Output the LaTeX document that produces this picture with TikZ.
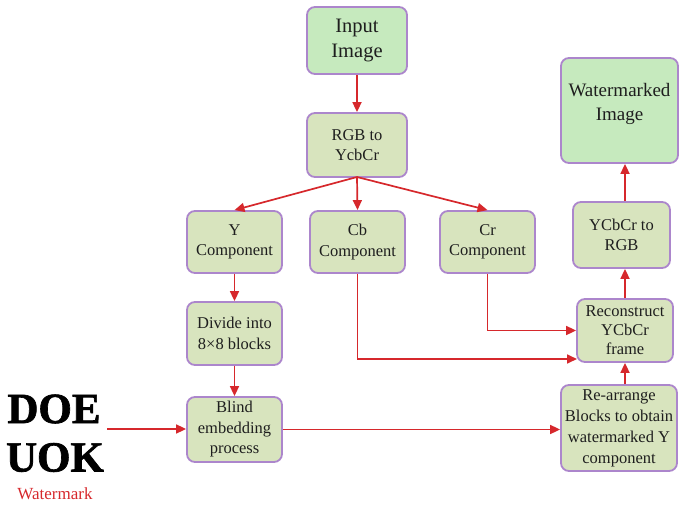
\documentclass[tikz,border=0pt]{standalone}
\usepackage{fontspec}
\setmainfont{Liberation Serif}
\newfontfamily\heavyfont[FakeBold=1.6]{Liberation Serif Bold}
\usetikzlibrary{arrows.meta,positioning}
\definecolor{boxfill}{RGB}{216,228,190}
\definecolor{imgfill}{RGB}{198,234,190}
\definecolor{boxline}{RGB}{172,134,204}
\definecolor{flow}{RGB}{214,40,44}
\definecolor{ink}{RGB}{30,30,30}
\tikzset{
  x=1pt, y=-1pt,
  procbox/.style={draw=boxline, line width=1.8pt, fill=boxfill, rounded corners=8pt,
    align=center, text=ink, inner sep=1pt,
    font=\fontsize{16.5}{20.5}\selectfont},
  imgbox/.style={procbox, fill=imgfill, font=\fontsize{19}{24}\selectfont},
  flowline/.style={draw=flow, line width=1.7pt, -{Triangle[length=10pt,width=9pt]}},
}
\begin{document}
\begin{tikzpicture}
\useasboundingbox (0,0) rectangle (680,508);
% left column and top of the pipeline
\node[imgbox, minimum width=100pt, minimum height=67pt, font=\fontsize{20.5}{25}\selectfont] (input) at (357,40.5) {Input\\Image};
\node[procbox, minimum width=100pt, minimum height=64pt] (rgb) at (357,145) {RGB to\\YcbCr};
\node[procbox, minimum width=95pt, minimum height=62pt] (ycomp) at (234.5,242) {Y\\Component};
\node[procbox, minimum width=95pt, minimum height=62pt] (cbcomp) at (357.5,242) {Cb\\Component};
\node[procbox, minimum width=95pt, minimum height=62pt] (crcomp) at (487.5,242) {Cr\\Component};
\node[procbox, minimum width=95pt, minimum height=63pt] (divide) at (234.5,333.5) {Divide into\\8×8 blocks};
\node[procbox, minimum width=95pt, minimum height=65pt] (blind) at (234.5,429.5) {Blind\\embedding\\process};
% right column
\node[procbox, minimum width=116pt, minimum height=86pt, font=\fontsize{16.5}{21}\selectfont] (rearr) at (619,428)
  {Re-arrange\\Blocks to obtain\\watermarked Y\\component};
\node[procbox, minimum width=96pt, minimum height=63pt, font=\fontsize{16.5}{19}\selectfont] (recon) at (625,330.5)
  {Reconstruct\\YCbCr\\frame};
\node[procbox, minimum width=97pt, minimum height=66pt] (torgb) at (621.5,235) {YCbCr to\\RGB};
\node[imgbox, minimum width=117pt, minimum height=105pt] (wmimg) at (619.5,110.5) {};
\node[align=center, text=ink, font=\fontsize{19}{24}\selectfont] (wmtext) at (619.5,104) {Watermarked\\Image};
% watermark logo
\node[text=black, font=\heavyfont\fontsize{43}{43}\selectfont, inner sep=0pt] (doe) at (54,409) {DOE};
\node[text=black, font=\heavyfont\fontsize{43}{43}\selectfont, inner sep=0pt] (uok) at (55,457.5) {UOK};
\node[text=flow, font=\fontsize{17}{18}\selectfont, inner sep=0pt] (wmlabel) at (55,494) {Watermark};
\coordinate (wmout) at (107,429);
\coordinate (split) at (357,177);
\coordinate (cbin) at (577,359);
% connectors
\draw[flowline] (input) -- (rgb);
\draw[flowline] (split) -- (ycomp.north);
\draw[flowline] (split) -- (cbcomp.north);
\draw[flowline] (split) -- (crcomp.north);
\draw[flowline] (ycomp) -- (divide);
\draw[flowline] (divide) -- (blind);
\draw[flowline] (wmout) -- (wmout -| blind.west);
\draw[flowline] (blind.east) -- (blind.east -| rearr.west);
\draw[flowline] (cbcomp.south) |- (cbin);
\draw[flowline] (crcomp.south) |- (recon.west);
\draw[flowline] (rearr.north -| recon.north) -- (recon.south);
\draw[flowline] (recon.north) -- (recon.north |- torgb.south);
\draw[flowline] (recon.north |- torgb.north) -- (recon.north |- wmimg.south);
\end{tikzpicture}
\end{document}
